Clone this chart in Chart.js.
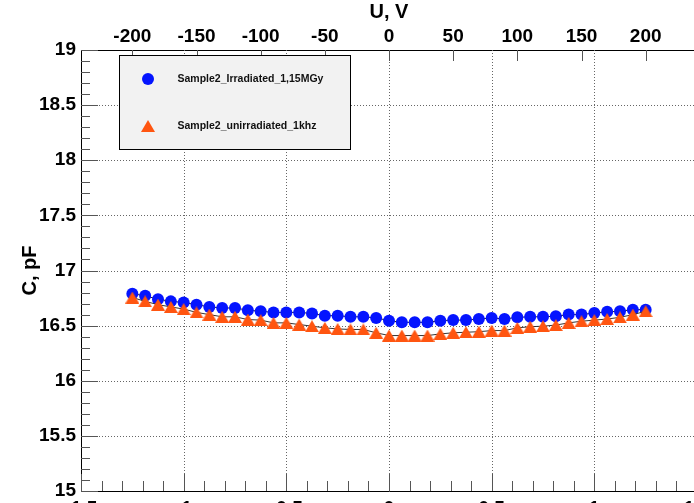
<!DOCTYPE html>
<html>
<head>
<meta charset="utf-8">
<script src="https://cdn.jsdelivr.net/npm/chart.js@4.4.1/dist/chart.umd.min.js"></script>
<style>
html, body { margin:0; padding:0; overflow:hidden; background:#fff; width:694px; height:503px; }
#wrap { position:absolute; left:0; top:0; width:720px; height:530px; }
</style>
</head>
<body>
<div id="wrap"><canvas id="c" width="720" height="530"></canvas></div>
<script>
// ---------- data ----------
const voltages = [-200,-190,-180,-170,-160,-150,-140,-130,-120,-110,-100,-90,-80,-70,-60,-50,-40,-30,-20,-10,
                  0,10,20,30,40,50,60,70,80,90,100,110,120,130,140,150,160,170,180,190,200];
const irradiated = [16.79,16.77,16.74,16.72,16.71,16.69,16.67,16.66,16.66,16.64,16.63,16.62,16.62,16.62,16.61,16.59,16.59,16.58,16.58,16.57,
                    16.545,16.53,16.53,16.53,16.545,16.55,16.55,16.56,16.57,16.56,16.575,16.58,16.58,16.585,16.60,16.60,16.615,16.625,16.63,16.645,16.645];
const unirradiated = [16.755,16.72,16.69,16.67,16.65,16.62,16.60,16.58,16.58,16.555,16.55,16.525,16.525,16.51,16.495,16.48,16.47,16.465,16.465,16.435,
                      16.41,16.41,16.41,16.41,16.425,16.435,16.44,16.445,16.455,16.455,16.48,16.49,16.495,16.505,16.525,16.54,16.55,16.56,16.575,16.60,16.63];
const seriesNames = ['Sample2_Irradiated_1,15MGy', 'Sample2_unirradiated_1khz'];
const topTickLabels = [-200,-150,-100,-50,0,50,100,150,200];
const bottomTickLabels = [-1.5,-1,-0.5,0,0.5,1,1.5];
const yTickLabels = [15,15.5,16,16.5,17,17.5,18,18.5,19];
const xTitle = 'U, V';
const yTitle = 'C, pF';

// ---------- styles ----------
const FONT = "'Liberation Sans', Arial, Helvetica, sans-serif";
const BLUE = '#0414ff';
const ORANGE = '#ff5510';

function makeTriangle(w, h, color) {
  const c = document.createElement('canvas');
  c.width = w; c.height = h;
  const g = c.getContext('2d');
  g.fillStyle = color;
  g.beginPath();
  g.moveTo(w / 2, 0);
  g.lineTo(w, h);
  g.lineTo(0, h);
  g.closePath();
  g.fill();
  return c;
}
const triMarker = makeTriangle(14, 12, ORANGE);

const toPoints = (xs, ys) => xs.map((v, i) => ({ x: v, y: ys[i] }));

// ROOT-like frame: dotted grid and inward ticks
const rootAxes = {
  id: 'rootAxes',
  beforeDatasetsDraw(chart) {
    const { ctx, chartArea: a, scales } = chart;
    const xb = scales.x, xt = scales.xTop, y = scales.y;
    const line = (x1, y1, x2, y2) => { ctx.beginPath(); ctx.moveTo(x1, y1); ctx.lineTo(x2, y2); ctx.stroke(); };
    ctx.save();
    ctx.lineWidth = 1;
    // dotted grid
    ctx.strokeStyle = '#666';
    ctx.setLineDash([1, 2]);
    bottomTickLabels.forEach(v => {
      const px = Math.round(xb.getPixelForValue(v)) + 0.5;
      if (px <= a.left + 2 || px >= a.right - 2) return;
      line(px, a.top, px, a.bottom);
    });
    yTickLabels.forEach(v => {
      const py = Math.round(y.getPixelForValue(v)) + 0.5;
      if (py <= a.top + 2 || py >= a.bottom - 2) return;
      line(a.left, py, a.right, py);
    });
    ctx.setLineDash([]);
    // ticks
    ctx.strokeStyle = '#555';
    const bmin = bottomTickLabels[0], bmax = bottomTickLabels[bottomTickLabels.length - 1];
    for (let i = Math.round(bmin * 10); i <= Math.round(bmax * 10); i++) {
      const px = Math.round(xb.getPixelForValue(i / 10)) + 0.5;
      const len = (i % 5 === 0) ? 17 : 10;
      line(px, a.bottom, px, a.bottom - len);
    }
    const ymin = yTickLabels[0], ymax = yTickLabels[yTickLabels.length - 1];
    for (let i = Math.round(ymin * 10); i <= Math.round(ymax * 10); i++) {
      const py = Math.round(y.getPixelForValue(i / 10)) + 0.5;
      const len = (i % 5 === 0) ? 17 : 9;
      line(a.left, py, a.left + len, py);
    }
    topTickLabels.forEach(v => {
      const px = Math.round(xt.getPixelForValue(v)) + 0.5;
      line(px, a.top, px, a.top + 11);
    });
    ctx.restore();
  }
};

// ROOT-like legend box
const rootLegend = {
  id: 'rootLegend',
  afterDatasetsDraw(chart) {
    const { ctx, chartArea: a } = chart;
    const bx = a.left + 38.5, by = a.top + 5.5, bw = 231, bh = 94;
    ctx.save();
    ctx.fillStyle = '#f2f2f2';
    ctx.fillRect(bx, by, bw, bh);
    ctx.strokeStyle = '#000';
    ctx.lineWidth = 1;
    ctx.strokeRect(bx, by, bw, bh);
    const mx = bx + 28.5, tx = bx + 58;
    const y1 = by + 23.5, y2 = by + 70.5;
    ctx.fillStyle = BLUE;
    ctx.beginPath(); ctx.arc(mx, y1, 6, 0, Math.PI * 2); ctx.fill();
    ctx.drawImage(triMarker, mx - triMarker.width / 2, y2 - triMarker.height / 2);
    ctx.fillStyle = '#111';
    ctx.font = 'bold 10.5px ' + FONT;
    ctx.textBaseline = 'middle';
    ctx.textAlign = 'left';
    ctx.fillText(seriesNames[0], tx, y1);
    ctx.fillText(seriesNames[1], tx, y2);
    ctx.restore();
  }
};

const tickFont = { family: FONT, size: 19, weight: 'bold' };
const titleFont = { family: FONT, size: 20, weight: 'bold' };

new Chart(document.getElementById('c'), {
  type: 'scatter',
  data: {
    datasets: [
      {
        label: seriesNames[0],
        data: toPoints(voltages, irradiated),
        xAxisID: 'xTop', yAxisID: 'y',
        showLine: true, borderColor: '#222', borderWidth: 1,
        pointStyle: 'circle', pointRadius: 6, pointBorderWidth: 0,
        pointBackgroundColor: BLUE, backgroundColor: BLUE,
        order: 1
      },
      {
        label: seriesNames[1],
        data: toPoints(voltages, unirradiated),
        xAxisID: 'xTop', yAxisID: 'y',
        showLine: true, borderColor: '#333', borderWidth: 1,
        pointStyle: triMarker, pointRadius: 6, pointBorderWidth: 0,
        pointBackgroundColor: ORANGE, backgroundColor: ORANGE,
        order: 0
      }
    ]
  },
  options: {
    responsive: false,
    devicePixelRatio: 1,
    animation: false,
    events: [],
    layout: { padding: { left: 0, top: 0, right: 23, bottom: 0 } },
    plugins: { legend: { display: false }, tooltip: { enabled: false } },
    scales: {
      x: {
        type: 'linear', position: 'bottom', min: -1.5, max: 1.5,
        afterBuildTicks: s => { s.ticks = bottomTickLabels.map(v => ({ value: v })); },
        afterFit: s => { s.height = 39; },
        grid: { display: false, drawTicks: false },
        border: { display: true, color: '#000', width: 1 },
        ticks: { padding: 6, font: tickFont, color: '#000', maxRotation: 0, autoSkip: false,
                 callback: v => String(v) }
      },
      xTop: {
        type: 'linear', position: 'top', min: -240, max: 240,
        afterBuildTicks: s => { s.ticks = topTickLabels.map(v => ({ value: v })); },
        afterFit: s => { s.height = 50; },
        grid: { display: false, drawTicks: false },
        border: { display: true, color: '#000', width: 1 },
        ticks: { padding: 2, font: tickFont, color: '#000', maxRotation: 0, autoSkip: false,
                 callback: v => String(v) },
        title: { display: true, text: xTitle, font: titleFont, color: '#000', padding: { top: 0, bottom: 0 } }
      },
      y: {
        type: 'linear', position: 'left', min: 15, max: 19,
        afterBuildTicks: s => { s.ticks = yTickLabels.map(v => ({ value: v })); },
        afterFit: s => { s.width = 81; },
        grid: { display: false, drawTicks: false },
        border: { display: true, color: '#000', width: 1 },
        ticks: { padding: 5, font: tickFont, color: '#000', autoSkip: false,
                 callback: v => String(v) },
        title: { display: true, text: yTitle, font: titleFont, color: '#000', padding: { top: 18, bottom: 0 } }
      }
    }
  },
  plugins: [rootAxes, rootLegend]
});
</script>
</body>
</html>
